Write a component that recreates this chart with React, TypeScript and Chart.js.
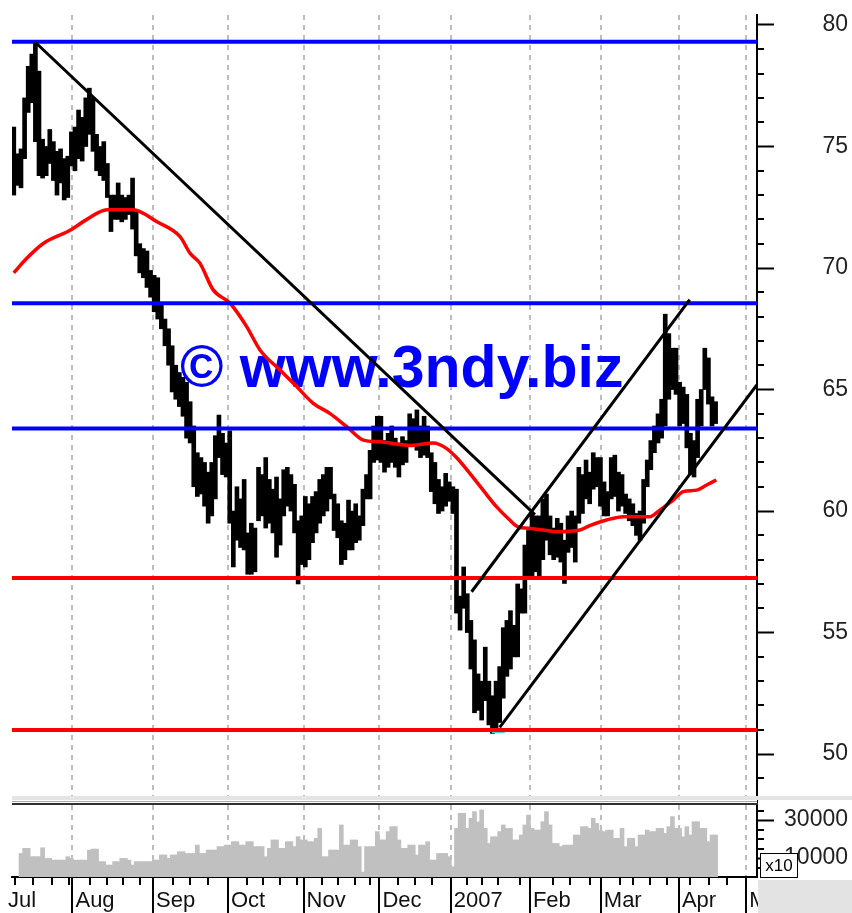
import React, { useEffect, useRef } from "react";
import { Chart, registerables } from "chart.js";

Chart.register(...registerables);

const FONT = "'Liberation Sans', Arial, Helvetica, sans-serif";

// ---------- data (trading-day index 0..195, Jul 2006 - Apr 2007) ----------
const priceHigh = [
  75.8, 74.7, 74.9, 77.0, 78.3, 78.8, 79.3, 78.1, 75.3, 75.0,
  75.7, 75.2, 74.8, 74.9, 74.5, 74.6, 75.6, 75.8, 76.5, 76.2,
  77.0, 77.4, 77.0, 75.5, 75.0, 75.2, 74.3, 73.0, 73.0, 73.5,
  73.0, 72.9, 73.0, 73.7, 72.3, 71.0, 70.8, 70.7, 69.9, 69.7,
  69.6, 68.5, 67.9, 67.5, 66.8, 66.0, 65.7, 65.5, 65.3, 64.5,
  63.5, 62.4, 62.2, 62.0, 61.6, 62.0, 63.1, 63.95, 63.2, 62.8,
  63.3, 60.0, 61.0, 60.5, 61.3, 59.1, 59.5, 59.3, 61.8, 61.5,
  62.2, 61.3, 60.9, 61.4, 60.5, 61.7, 61.8, 61.5, 61.1, 59.6,
  59.8, 60.6, 60.3, 60.6, 60.8, 61.3, 61.5, 61.8, 61.8, 60.7,
  60.3, 59.6, 59.5, 60.45, 60.0, 60.3, 59.8, 60.9, 61.5, 62.5,
  63.5, 63.9, 63.9, 62.9, 63.2, 63.5, 63.0, 62.8, 63.06, 62.9,
  64.0, 63.8, 64.16, 63.5, 63.9, 63.5, 62.4, 62.0, 61.3, 61.0,
  61.55, 61.2, 61.0, 60.9, 56.5, 57.7, 56.6, 55.5, 54.7, 53.3,
  53.0, 54.4, 53.0, 52.4, 53.0, 53.6, 55.2, 55.5, 55.9, 55.3,
  57.0, 56.8, 58.6, 59.2, 59.9, 59.8, 59.8, 60.5, 60.7, 59.8,
  59.3, 59.7, 59.5, 58.8, 59.8, 60.0, 59.8, 61.8, 61.5, 62.1,
  61.6, 62.4, 62.2, 62.2, 61.2, 60.8, 62.2, 62.3, 61.6, 61.5,
  60.7, 60.5, 60.3, 59.9, 60.0, 61.3, 62.1, 62.9, 63.5, 64.0,
  64.6, 68.1, 67.3, 66.7, 66.7, 65.3, 65.1, 64.8, 63.2, 62.9,
  64.6, 65.0, 66.7, 66.3, 64.7, 64.5,
];

const priceLow = [
  73.0, 73.4, 73.3, 74.5, 76.4, 76.8, 75.2, 73.8, 73.7, 73.8,
  74.3, 73.6, 73.0, 73.5, 72.8, 72.9, 74.2, 74.0, 74.5, 74.4,
  75.0, 75.5, 74.8, 74.0, 73.8, 73.6, 72.9, 71.5, 72.0, 72.0,
  71.9, 72.0, 72.2, 71.6, 70.5, 69.8, 69.6, 69.2, 68.8, 68.2,
  67.9, 67.5, 66.8, 66.0, 64.9, 64.6, 64.3, 63.9, 63.0, 62.8,
  61.0, 60.6, 60.7, 60.2, 59.5, 59.8, 60.5, 62.2, 61.5, 61.4,
  59.5, 57.7, 58.8, 58.5, 58.4, 57.4, 57.4, 57.5, 59.6, 59.8,
  59.3, 59.5, 59.1, 58.1, 58.6, 59.8, 60.2, 60.0, 59.1, 57.0,
  57.8, 57.7, 58.0, 58.7, 59.1, 59.5, 59.8, 60.0, 60.5, 59.2,
  58.9, 57.8, 58.0, 58.4, 58.4, 58.7, 58.8, 59.4, 60.5, 60.5,
  62.0, 62.1, 62.0, 61.6, 61.8, 62.0, 61.8, 61.4, 61.9, 62.0,
  62.7, 62.65, 62.5, 62.2, 62.3, 62.2, 60.8, 60.3, 59.9, 60.0,
  60.2, 60.4, 59.9, 55.8, 55.1, 56.0, 55.0, 53.5, 51.7, 51.8,
  51.4, 52.2, 51.2, 50.85, 51.0, 51.3, 52.3, 53.2, 53.5, 54.0,
  54.0, 55.8, 55.8, 57.2, 57.3, 57.5, 57.3, 58.0, 58.8, 58.2,
  58.0, 58.1, 57.9, 57.02, 58.3, 58.5, 57.9, 59.5, 59.9, 60.5,
  60.3, 60.9, 61.0, 60.2, 59.8, 59.8, 60.5, 60.6, 60.0, 60.2,
  59.9, 59.6, 59.4, 59.0, 58.8, 59.5, 61.0, 61.7, 62.4, 62.8,
  63.0, 63.5, 64.6, 65.0, 64.8, 63.5, 63.6, 62.6, 61.5, 61.4,
  62.2, 63.5, 65.0, 64.4, 63.5, 63.6,
];

const volume: (number | null)[] = [
  null, null, 12400, 15100, 15100, 10700, 10700, 10700, 15400, 9800,
  9800, 8900, 8900, 8900, 8900, 10700, 9800, 8900, 8900, 8900,
  8900, 14200, 14700, 14700, 8100, 8100, 6300, 6300, 8100, 8100,
  9800, 9800, 8900, 6300, 8100, 8100, 8100, 8100, 8100, 8900,
  8900, 11600, 11600, 9800, 11600, 11600, 13300, 13300, 12400, 12400,
  12400, 16800, 12400, 12400, 14200, 14200, 14200, 16000, 16000, 16800,
  16800, 18600, 18600, 16800, 16800, 18600, 18600, 16000, 16000, 16000,
  10700, 15100, 19500, 19500, 15100, 15100, 18600, 18600, 16000, 21200,
  19500, 19500, 18600, 18600, 20400, 25600, 10700, 10700, 14200, 14200,
  14200, 27400, 16800, 16800, 19500, 19500, 16000, 2600, 16000, 16000,
  16000, 23900, 19500, 19500, 23900, 26500, 26500, 19500, 15100, 15100,
  16800, 16800, 11600, 16800, 16800, 18600, 8900, 8900, 12400, 12400,
  12400, 10700, 5400, 25600, 33500, 33500, 25600, 30900, 34400, 29000,
  35300, 25600, 17700, 21200, 21200, 23900, 27400, 25600, 25600, 19500,
  19500, 22100, 27400, 32600, 25600, 24700, 24700, 29100, 34400, 27400,
  17700, 17700, 16000, 16800, 16800, 16800, 22100, 22100, 26500, 26500,
  25600, 30900, 28200, 24500, 23900, 24700, 24700, 20400, 20400, 25600,
  16000, 20400, 20400, 16000, 22100, 22100, 24700, 23900, 23900, 25600,
  25600, 23000, 26500, 31800, 25600, 25600, 21200, 26500, 22100, 29100,
  29100, 25600, 25600, 18600, 22100, 22100,
];

// moving average at sample days
const maDays = [0, 3.6, 8.1, 15.6, 20.3, 25.9, 33.1, 39.8, 46.2, 49, 51.7, 55.4, 60.1, 64.7, 68.4, 74, 78.6, 83.2, 87.8, 92.5, 97.1, 101.7, 104.5, 110, 116.5, 120.2, 123, 126.7, 130.4, 134.1, 137.8, 140.1, 142.9, 147.1, 150.8, 157.3, 160, 164.7, 169.3, 176.7, 179.5, 183.2, 186, 189.7, 192.5, 195.2];
const maValues = [69.8, 70.4, 71.0, 71.55, 72.0, 72.4, 72.4, 71.9, 71.29, 70.6, 70.2, 69.1, 68.55, 67.59, 66.63, 65.8, 65.12, 64.43, 64.02, 63.47, 62.92, 62.85, 62.8, 62.7, 62.8, 62.58, 62.2, 61.55, 60.86, 60.18, 59.63, 59.35, 59.29, 59.22, 59.15, 59.22, 59.4, 59.63, 59.77, 59.77, 60.04, 60.45, 60.8, 60.86, 61.07, 61.28];

// horizontal support / resistance levels
const blueLevels = [79.31, 68.55, 63.4];
const redLevels = [57.25, 50.99];
const lowMarkLevel = 50.9;
const lowMarkDays = [132.8, 136.4];

// trend lines: [day, price]
const downTrend = [[5.9, 79.3], [144.8, 59.85]];
const channelUpper = [[127.2, 56.68], [187.8, 68.7]];
const channelLower = [[135.0, 51.1], [206.5, 65.2]];

// axes
const xMin = -0.5;
const xMax = 206.5;
const monthTicks = [-2.44, 16.3, 38.7, 59.5, 80.5, 101.6, 121.4, 143.4, 163.1, 184.8, 203.5];
const monthLabels = ["Jul", "Aug", "Sep", "Oct", "Nov", "Dec", "2007", "Feb", "Mar", "Apr", "May"];
const weekTicks = [0.3, 5.3, 10.6, 15.3, 21.2, 25.9, 30.3, 35.1, 44.2, 48.9, 53.9, 64.8, 69.2, 73.9, 78.7, 85.6, 90.1, 94.8, 98.9, 106.7, 111.4, 116.2, 125.9, 130.1, 134.5, 140.6, 149.8, 154.5, 160.1, 168.4, 172.0, 176.7, 181.4, 187.8, 193.3, 198.1];
const priceMin = 48.07;
const priceMax = 80.41;
const priceMajor = [50, 55, 60, 65, 70, 75, 80];
const priceMinor = [49, 51, 52, 53, 54, 56, 57, 58, 59, 61, 62, 63, 64, 66, 67, 68, 69, 71, 72, 73, 74, 76, 77, 78, 79];
const volMax = 40000;
const volMajor = [10000, 30000];
const volMinor = [5000, 15000, 20000, 25000, 35000];
const WATERMARK = "\u00a9 www.3ndy.biz";

function hLine(level: number, color: string, width: number) {
  return {
    type: "line" as const,
    data: [{ x: xMin, y: level }, { x: xMax, y: level }],
    borderColor: color,
    borderWidth: width,
    pointRadius: 0,
    fill: false,
    yAxisID: "y",
    order: 1,
  };
}

function segLine(pts: number[][], color: string, width: number) {
  return {
    type: "line" as const,
    data: pts.map((p) => ({ x: p[0], y: p[1] })),
    borderColor: color,
    borderWidth: width,
    pointRadius: 0,
    fill: false,
    yAxisID: "y",
    order: 0,
  };
}

const decorPlugin = {
  id: "decor",
  beforeDatasetsDraw(chart: any) {
    const ctx = chart.ctx;
    ctx.save();
    ctx.font = `bold 59px ${FONT}`;
    ctx.fillStyle = "#0000ff";
    ctx.textAlign = "left";
    ctx.textBaseline = "alphabetic";
    ctx.fillText(WATERMARK, 180, 387);
    ctx.restore();
  },
  afterDraw(chart: any) {
    const ctx = chart.ctx;
    const x = chart.scales.x;
    const y = chart.scales.y;
    const yv = chart.scales.yv;
    ctx.save();
    ctx.fillStyle = "#000";
    weekTicks.forEach((v) => {
      const px = Math.round(x.getPixelForValue(v));
      ctx.fillRect(px - 1, x.top, 2, 8);
    });
    priceMinor.forEach((v) => {
      const py = Math.round(y.getPixelForValue(v));
      ctx.fillRect(y.left, py - 1, 7, 2);
    });
    volMinor.forEach((v) => {
      const py = Math.round(yv.getPixelForValue(v));
      ctx.fillRect(yv.left, py - 1, 7, 2);
    });
    // panel separator
    const sepY = y.bottom;
    ctx.fillStyle = "#e4e4e4";
    ctx.fillRect(x.left, sepY - 5, chart.width - x.left, 4);
    ctx.fillStyle = "#ffffff";
    ctx.fillRect(x.left, sepY - 1, x.right - x.left, 3);
    ctx.fillStyle = "#a8a8a8";
    ctx.fillRect(x.left, sepY, x.right - x.left, 1);
    ctx.fillStyle = "#303030";
    ctx.fillRect(x.left, sepY + 2, x.right - x.left + 1, 2);
    // x10 box
    ctx.fillStyle = "#ffffff";
    ctx.fillRect(760, 853, 37, 24);
    ctx.strokeStyle = "#000";
    ctx.lineWidth = 1;
    ctx.strokeRect(760.5, 853.5, 37, 24);
    ctx.fillStyle = "#000";
    ctx.font = `17px ${FONT}`;
    ctx.textAlign = "center";
    ctx.textBaseline = "middle";
    ctx.fillText("x10", 779, 866);
    // corner
    ctx.fillStyle = "#e3e3e3";
    ctx.fillRect(758, 880, chart.width - 758, chart.height - 880);
    ctx.restore();
  },
};

export default function App() {
  const ref = useRef<HTMLCanvasElement>(null);
  useEffect(() => {
    if (!ref.current) return;
    Chart.defaults.font.family = FONT;
    const priceBars = priceHigh.map((h, i) => ({ x: i, y: [priceLow[i], h] }));
    const volBars = volume
      .map((v, i) => (v == null ? null : { x: i, y: v }))
      .filter((d) => d !== null);
    const maPoints = maDays.map((d, i) => ({ x: d, y: maValues[i] }));

    const datasets: any[] = [
      {
        type: "bar",
        data: volBars,
        backgroundColor: "#c0c0c0",
        borderWidth: 0,
        barThickness: 4,
        grouped: false,
        yAxisID: "yv",
        order: 10,
      },
      {
        type: "bar",
        data: priceBars,
        backgroundColor: "#000000",
        borderWidth: 0,
        barThickness: 4,
        grouped: false,
        yAxisID: "y",
        order: 9,
      },
      ...blueLevels.map((l) => hLine(l, "#0000ff", 4)),
      ...redLevels.map((l) => hLine(l, "#ff0000", 4)),
      {
        type: "line",
        data: lowMarkDays.map((d) => ({ x: d, y: lowMarkLevel })),
        borderColor: "#40d8e0",
        borderWidth: 2,
        pointRadius: 0,
        yAxisID: "y",
        order: 2,
      },
      {
        type: "line",
        data: maPoints,
        borderColor: "#ff0000",
        borderWidth: 3.5,
        pointRadius: 0,
        cubicInterpolationMode: "monotone",
        fill: false,
        yAxisID: "y",
        order: 1,
      },
      segLine(downTrend, "#000000", 3),
      segLine(channelUpper, "#000000", 3),
      segLine(channelLower, "#000000", 3),
    ];

    const chart = new Chart(ref.current, {
      type: "bar",
      data: { datasets },
      options: {
        responsive: false,
        animation: false,
        devicePixelRatio: 1,
        layout: { padding: { left: 12, top: 15, right: 4, bottom: 0 } },
        plugins: { legend: { display: false }, tooltip: { enabled: false } },
        events: [],
        scales: {
          x: {
            type: "linear",
            min: xMin,
            max: xMax,
            offset: false,
            afterBuildTicks: (s: any) => {
              s.ticks = monthTicks.map((v) => ({ value: v }));
            },
            afterFit: (s: any) => {
              s.height = 36;
              s.paddingLeft = 0;
              s.paddingRight = 0;
            },
            grid: {
              offset: false,
              color: (c: any) => (c.tick && c.tick.value < xMin ? "rgba(0,0,0,0)" : "#bdbdbd"),
              lineWidth: 2,
              tickLength: 36,
              tickWidth: 2,
              tickColor: (c: any) => (c.tick && c.tick.value < xMin ? "rgba(0,0,0,0)" : "#000"),
            },
            border: { display: true, color: "#000", width: 2, dash: [5, 5] },
            ticks: {
              autoSkip: false,
              maxRotation: 0,
              minRotation: 0,
              align: "start",
              labelOffset: 3,
              padding: -25,
              color: "#111",
              font: { family: FONT, size: 22 },
              callback: (_v: any, i: number) => monthLabels[i],
            },
          },
          y: {
            type: "linear",
            position: "right",
            stack: "right",
            stackWeight: 786,
            min: priceMin,
            max: priceMax,
            afterBuildTicks: (s: any) => {
              s.ticks = priceMajor.map((v) => ({ value: v }));
            },
            afterFit: (s: any) => {
              s.width = 91;
              s.paddingTop = 0;
              s.paddingBottom = 0;
            },
            grid: { drawOnChartArea: false, tickLength: 17, tickWidth: 2, tickColor: "#000", color: "#000" },
            border: { display: true, color: "#000", width: 2 },
            ticks: {
              crossAlign: "far",
              padding: 46,
              color: "#222",
              font: { family: FONT, size: 23 },
              callback: (v: any) => String(v),
            },
          },
          yv: {
            type: "linear",
            position: "right",
            stack: "right",
            stackWeight: 76,
            min: 0,
            max: volMax,
            afterBuildTicks: (s: any) => {
              s.ticks = volMajor.map((v) => ({ value: v }));
            },
            afterFit: (s: any) => {
              s.width = 91;
              s.paddingTop = 0;
              s.paddingBottom = 0;
            },
            grid: { drawOnChartArea: false, tickLength: 17, tickWidth: 2, tickColor: "#000", color: "#000" },
            border: { display: true, color: "#000", width: 2 },
            ticks: {
              crossAlign: "far",
              padding: 6,
              color: "#222",
              font: { family: FONT, size: 23 },
              callback: (v: any) => String(v),
            },
          },
        },
      } as any,
      plugins: [decorPlugin],
    });
    return () => chart.destroy();
  }, []);

  return (
    <div style={{ position: "fixed", left: 0, top: 0, width: 852, height: 913, background: "#ffffff" }}>
      <canvas ref={ref} width={852} height={913} style={{ display: "block", width: 852, height: 913 }} />
    </div>
  );
}
